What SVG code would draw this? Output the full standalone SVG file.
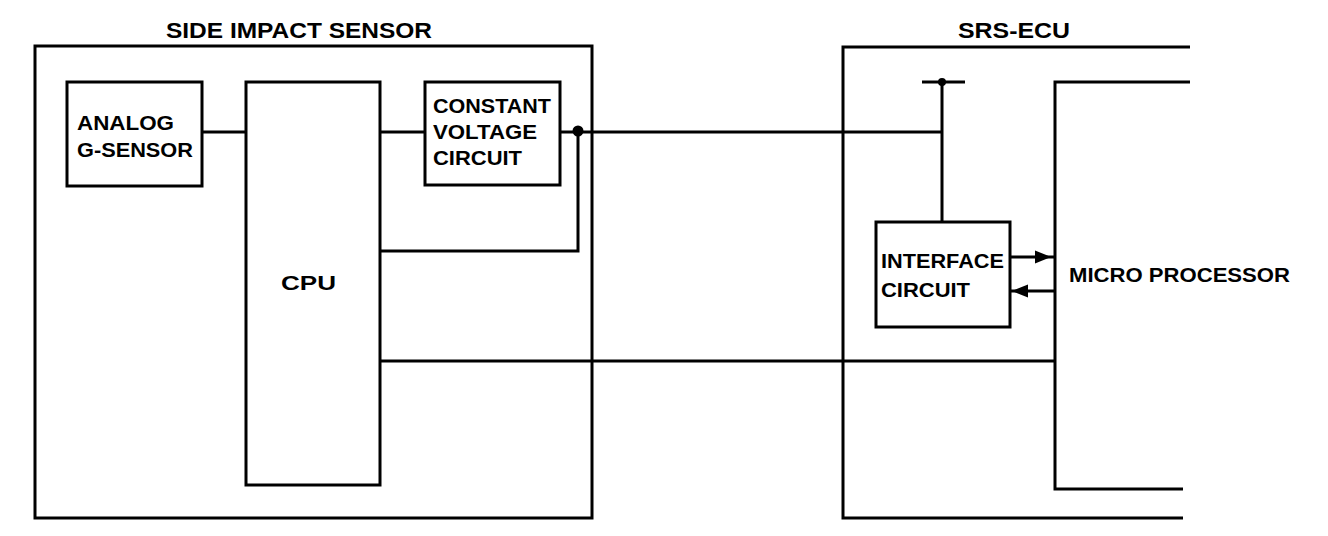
<svg xmlns="http://www.w3.org/2000/svg" width="1328" height="536" viewBox="0 0 1328 536">
<style>
.box{fill:none;stroke:#000;stroke-width:3}
.ln{fill:none;stroke:#000;stroke-width:3}
text{font-family:"Liberation Sans",Arial,sans-serif;font-size:20px;font-weight:bold;fill:#000}
.ttl{font-size:22px}
</style>
<defs>
<marker id="ah" viewBox="0 0 10 10" refX="5" refY="5" markerWidth="5.5" markerHeight="5.5" orient="auto" markerUnits="strokeWidth">
<path d="M0,1 L10,5 L0,9 z" fill="#000"/>
</marker>
</defs>
<rect width="1328" height="536" fill="#fff"/>
<g id="side-impact-sensor">
<rect class="box" x="35" y="46" width="557" height="472"/>
<text class="ttl" x="166" y="38" textLength="266" lengthAdjust="spacingAndGlyphs">SIDE IMPACT SENSOR</text>
</g>
<g id="analog-g-sensor">
<rect class="box" x="67" y="82" width="135" height="104"/>
<text x="77" y="130" textLength="97" lengthAdjust="spacingAndGlyphs">ANALOG</text>
<text x="77" y="157" textLength="116" lengthAdjust="spacingAndGlyphs">G-SENSOR</text>
</g>
<g id="cpu">
<rect class="box" x="246" y="82" width="134" height="403"/>
<text x="281" y="290" textLength="55" lengthAdjust="spacingAndGlyphs">CPU</text>
</g>
<g id="constant-voltage-circuit">
<rect class="box" x="425" y="82" width="135" height="103"/>
<text x="433" y="113" textLength="118" lengthAdjust="spacingAndGlyphs">CONSTANT</text>
<text x="433" y="139" textLength="104" lengthAdjust="spacingAndGlyphs">VOLTAGE</text>
<text x="433" y="165" textLength="89" lengthAdjust="spacingAndGlyphs">CIRCUIT</text>
</g>
<g id="srs-ecu">
<path class="box" d="M1190,47 H843 V518 H1183"/>
<text class="ttl" x="958" y="38" textLength="112" lengthAdjust="spacingAndGlyphs">SRS-ECU</text>
</g>
<g id="interface-circuit">
<rect class="box" x="876" y="222" width="134" height="105"/>
<text x="881" y="268" textLength="123" lengthAdjust="spacingAndGlyphs">INTERFACE</text>
<text x="881" y="297" textLength="89" lengthAdjust="spacingAndGlyphs">CIRCUIT</text>
</g>
<g id="micro-processor">
<path class="box" d="M1190,82 H1055 V489 H1183"/>
<text x="1069" y="282" textLength="221" lengthAdjust="spacingAndGlyphs">MICRO PROCESSOR</text>
</g>
<g id="connectors">
<path class="ln" d="M202,132 H246"/>
<path class="ln" d="M380,132 H425"/>
<path class="ln" d="M560,132 H942 M942,132 V82 M922,82 H965 M942,132 V222"/>
<path class="ln" d="M380,251 H578 V132"/>
<path class="ln" d="M380,361 H1055"/>
<circle cx="578" cy="131" r="5.5" fill="#000"/>
<circle cx="942" cy="82" r="4" fill="#000"/>
<path class="ln" d="M1010,257 H1043" marker-end="url(#ah)"/>
<path class="ln" d="M1043,257 H1055"/>
<path class="ln" d="M1055,291 H1020" marker-end="url(#ah)"/>
<path class="ln" d="M1020,291 H1010"/>
</g>
</svg>
